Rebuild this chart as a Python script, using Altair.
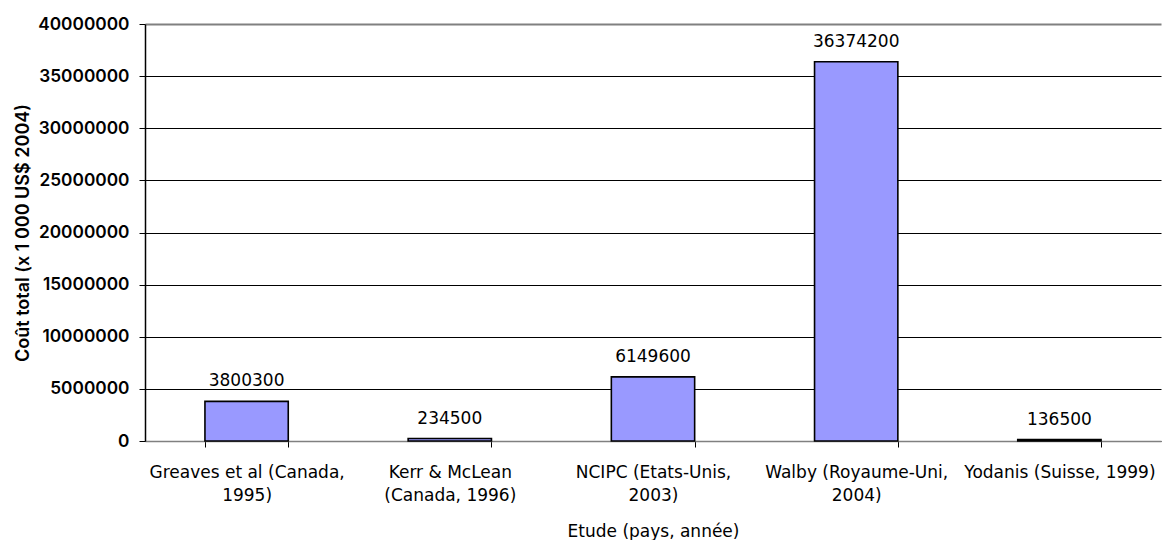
import altair as alt
import pandas as pd

# Study labels (line break marks where the axis label wraps) and total costs
studies = [
    "Greaves et al (Canada,\n1995)",
    "Kerr & McLean\n(Canada, 1996)",
    "NCIPC (Etats-Unis,\n2003)",
    "Walby (Royaume-Uni,\n2004)",
    "Yodanis (Suisse, 1999)",
]
costs = [3800300, 234500, 6149600, 36374200, 136500]
y_ticks = [0, 5000000, 10000000, 15000000, 20000000, 25000000, 30000000, 35000000, 40000000]

df = pd.DataFrame({"etude": studies, "cout": costs})

FONT = "DejaVu Sans"
Y_FONT = "Inter"
SIZE = 17

x_enc = alt.X(
    "etude:N",
    sort=None,
    title="Etude (pays, année)",
    scale=alt.Scale(paddingInner=0.59, paddingOuter=0.295),
    axis=alt.Axis(
        labelAngle=0,
        labelExpr="split(datum.label, '\\n')",
        labelFont=FONT,
        labelFontSize=SIZE,
        labelLineHeight=23,
        labelColor="black",
        labelPadding=17,
        labelBaseline="top",
        labelLimit=0,
        tickBand="extent",
        tickSize=6,
        tickColor="black",
        domainColor="#808080",
        domainWidth=1.5,
        titleFont=FONT,
        titleFontSize=SIZE,
        titleFontWeight="normal",
        titleColor="black",
        titlePadding=20,
        grid=False,
    ),
)

y_enc = alt.Y(
    "cout:Q",
    title="Coût total (x 1 000 US$ 2004)",
    scale=alt.Scale(domain=[0, 40000000], nice=False),
    axis=alt.Axis(
        values=y_ticks,
        format="d",
        labelFont=Y_FONT,
        labelFontSize=17.3,
        labelFontWeight=600,
        labelColor="black",
        labelPadding=10,
        tickSize=6,
        tickColor="black",
        domainColor="black",
        domainWidth=1.5,
        grid=True,
        gridColor={"condition": {"test": "datum.value === 40000000", "value": "#808080"}, "value": "black"},
        gridWidth={"condition": {"test": "datum.value === 40000000", "value": 2}, "value": 1},
        titleFont=Y_FONT,
        titleFontSize=18,
        titleFontWeight=600,
        titleColor="black",
        titlePadding=5,
    ),
)

base = alt.Chart(df).encode(x=x_enc, y=y_enc)

bars = base.mark_bar(color="#9999FF", stroke="black", strokeWidth=1.6)

labels = base.mark_text(
    font=FONT, fontSize=SIZE, color="black", baseline="alphabetic", dy=-15
).encode(text=alt.Text("cout:Q", format="d"))

chart = (
    (bars + labels)
    .properties(
        width=1016,
        height=417,
        autosize=alt.AutoSizeParams(type="none"),
        padding={"left": 145, "top": 24, "right": 1, "bottom": 99},
        background="white",
    )
    .configure_view(stroke=None)
)

chart.save("out.html", embed_options={"renderer": "svg", "actions": False})
